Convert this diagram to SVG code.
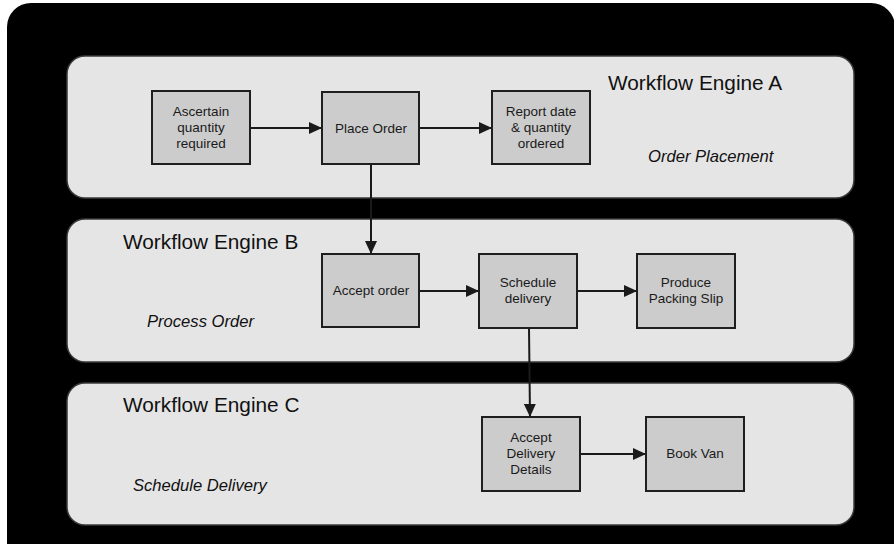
<svg xmlns="http://www.w3.org/2000/svg" width="894" height="544" viewBox="0 0 894 544">
<defs>
<marker id="arr" markerWidth="13" markerHeight="12" refX="13" refY="6" orient="auto" markerUnits="userSpaceOnUse">
<path d="M0,0 L13,6 L0,12 Z" fill="#1a1a1a"/>
</marker>
<style>
.lane{fill:#e5e5e5;stroke:#3a3a3a;stroke-width:1.5}
.box{fill:#cccccc;stroke:#1e1e1e;stroke-width:2}
.t{font-family:"Liberation Sans",Arial,sans-serif;font-size:13.5px;fill:#1a1a1a;text-anchor:middle}
.h{font-family:"Liberation Sans",Arial,sans-serif;font-size:20.8px;fill:#111}
.s{font-family:"Liberation Sans",Arial,sans-serif;font-size:16.6px;font-style:italic;fill:#111}
.c{stroke:#1a1a1a;stroke-width:2;fill:none;marker-end:url(#arr)}
</style>
</defs>
<rect x="7" y="3" width="888" height="570" rx="24" fill="#000"/>
<g id="laneA"><rect class="lane" x="67" y="56" width="787" height="142" rx="18"/>
<text class="h" x="608" y="90">Workflow Engine A</text>
<text class="s" x="648" y="162">Order Placement</text></g>
<g id="laneB"><rect class="lane" x="67" y="219" width="787" height="143" rx="18"/>
<text class="h" x="123" y="249">Workflow Engine B</text>
<text class="s" x="147" y="327">Process Order</text></g>
<g id="laneC"><rect class="lane" x="67" y="383" width="787" height="142" rx="18"/>
<text class="h" x="123" y="412">Workflow Engine C</text>
<text class="s" x="133" y="491">Schedule Delivery</text></g>
<g id="connectors">
<line class="c" x1="250" y1="128" x2="322" y2="128"/>
<line class="c" x1="419" y1="128" x2="492" y2="128"/>
<line class="c" x1="371" y1="164" x2="371" y2="254"/>
<line class="c" x1="419" y1="291" x2="479" y2="291"/>
<line class="c" x1="577" y1="291" x2="637" y2="291"/>
<line class="c" x1="529" y1="328" x2="530" y2="417"/>
<line class="c" x1="580" y1="454" x2="646" y2="454"/>
</g>
<g id="ascertain"><rect class="box" x="152" y="91" width="98" height="73"/>
<text class="t" x="201" y="116">Ascertain</text><text class="t" x="201" y="132">quantity</text><text class="t" x="201" y="148">required</text></g>
<g id="placeOrder"><rect class="box" x="322" y="92" width="97" height="72"/>
<text class="t" x="371" y="133">Place Order</text></g>
<g id="report"><rect class="box" x="492" y="91" width="98" height="73"/>
<text class="t" x="541" y="116">Report date</text><text class="t" x="541" y="132">&amp; quantity</text><text class="t" x="541" y="148">ordered</text></g>
<g id="acceptOrder"><rect class="box" x="322" y="254" width="97" height="73"/>
<text class="t" x="371" y="295">Accept order</text></g>
<g id="schedule"><rect class="box" x="479" y="254" width="98" height="74"/>
<text class="t" x="528" y="287">Schedule</text><text class="t" x="528" y="303">delivery</text></g>
<g id="packing"><rect class="box" x="637" y="254" width="98" height="74"/>
<text class="t" x="686" y="287">Produce</text><text class="t" x="686" y="303">Packing Slip</text></g>
<g id="acceptDelivery"><rect class="box" x="482" y="417" width="98" height="74"/>
<text class="t" x="531" y="442">Accept</text><text class="t" x="531" y="458">Delivery</text><text class="t" x="531" y="474">Details</text></g>
<g id="bookVan"><rect class="box" x="646" y="417" width="98" height="74"/>
<text class="t" x="695" y="458">Book Van</text></g>
</svg>
